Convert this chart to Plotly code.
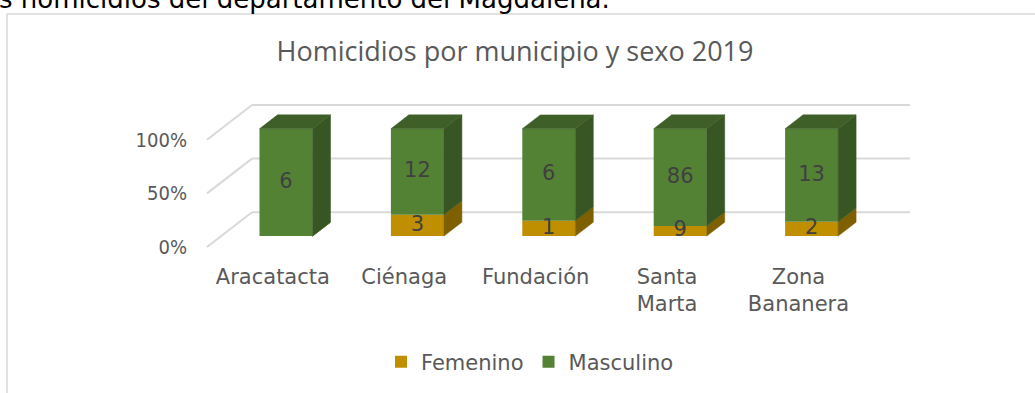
import plotly.graph_objects as go

# --- Data -----------------------------------------------------------------
municipios = ["Aracatacta", "Ciénaga", "Fundación", "Santa Marta", "Zona Bananera"]
etiquetas = ["Aracatacta", "Ciénaga", "Fundación", "Santa<br>Marta", "Zona<br>Bananera"]
femenino = [0, 3, 1, 9, 2]
masculino = [6, 12, 6, 86, 13]
ticks_pct = [0, 50, 100]

titulo = "Homicidios por municipio y sexo 2019"
texto_superior = "s homicidios del departamento del Magdalena."

# --- Page geometry (pixels) ------------------------------------------------
W, H = 1035, 393
M_L, M_R, M_T, M_B = 200, 115, 95, 138
PLOT_W = W - M_L - M_R
PLOT_H = H - M_T - M_B
PX_PER_CAT = 131.4          # horizontal distance between categories
PX_PER_PCT = 1.08           # vertical pixels per percent
FIRST_CAT_PX = 286          # centre of the first column's front face
FLOOR_FRONT_PX = 248        # 0 % on the front edge of the floor

x0 = -(FIRST_CAT_PX - M_L) / PX_PER_CAT
x1 = x0 + PLOT_W / PX_PER_CAT
y0 = (FLOOR_FRONT_PX - (H - M_B)) / PX_PER_PCT
y1 = (FLOOR_FRONT_PX - M_T) / PX_PER_PCT


def xpx(px):
    return x0 + (px - M_L) / PX_PER_CAT


def paper_x(px):
    return (px - M_L) / PLOT_W


def paper_y(py):
    return (H - M_B - py) / PLOT_H


# 3-D box: walls / floor depth and column depth
WALL_DX = 45 / PX_PER_CAT
WALL_DY = 35 / PX_PER_PCT
WALL_LEFT_FRONT = xpx(207)
WALL_RIGHT_BACK = xpx(910)
BAR_BASE = 11 / PX_PER_PCT
BAR_W = 53 / PX_PER_CAT
BAR_DX = 18 / PX_PER_CAT
BAR_DY = 14 / PX_PER_PCT

C_FEM, C_FEM_SIDE = "#BF8F00", "#7F6000"
C_MAS, C_MAS_SIDE, C_MAS_TOP = "#548235", "#375623", "#3E5F28"
GRID = "#D9D9D9"
TXT = "#595959"

idx = list(range(len(municipios)))
totales = [f + m for f, m in zip(femenino, masculino)]
fem_pct = [f / t * 100 for f, t in zip(femenino, totales)]
mas_pct = [m / t * 100 for m, t in zip(masculino, totales)]

fig = go.Figure()

# Gridlines on the side and back walls (kept behind the columns)
for v in ticks_pct:
    grid_line = dict(type="line", xref="x", yref="y", layer="below",
                     line=dict(color=GRID, width=2))
    fig.add_shape(**grid_line, x0=WALL_LEFT_FRONT, y0=v,
                  x1=WALL_LEFT_FRONT + WALL_DX, y1=v + WALL_DY)
    fig.add_shape(**grid_line, x0=WALL_LEFT_FRONT + WALL_DX, y0=v + WALL_DY,
                  x1=WALL_RIGHT_BACK, y1=v + WALL_DY)

# Front faces of the stacked columns
fig.add_trace(go.Bar(name="Femenino", x=idx, y=fem_pct, base=BAR_BASE, width=BAR_W,
                     marker=dict(color=C_FEM, line=dict(width=0)),
                     customdata=femenino, hovertemplate="%{customdata}<extra>Femenino</extra>"))
fig.add_trace(go.Bar(name="Masculino", x=idx, y=mas_pct,
                     base=[BAR_BASE + p for p in fem_pct], width=BAR_W,
                     marker=dict(color=C_MAS, line=dict(width=0)),
                     customdata=masculino, hovertemplate="%{customdata}<extra>Masculino</extra>"))


def side_faces(bottoms, tops):
    xs, ys = [], []
    for i, b0, b1 in zip(idx, bottoms, tops):
        xr = i + BAR_W / 2
        xs += [xr, xr + BAR_DX, xr + BAR_DX, xr, xr, None]
        ys += [b0, b0 + BAR_DY, b1 + BAR_DY, b1, b0, None]
    return xs, ys


fem_bot = [BAR_BASE for _ in idx]
fem_top = [BAR_BASE + p for p in fem_pct]
mas_top = [a + p for a, p in zip(fem_top, mas_pct)]

for (bots, tops, col) in [(fem_bot, fem_top, C_FEM_SIDE), (fem_top, mas_top, C_MAS_SIDE)]:
    sx, sy = side_faces(bots, tops)
    fig.add_trace(go.Scatter(x=sx, y=sy, mode="lines", fill="toself", fillcolor=col,
                             line=dict(color=col, width=0.5), showlegend=False, hoverinfo="skip"))

# Top faces
tx, ty = [], []
for i, t in zip(idx, mas_top):
    xl, xr = i - BAR_W / 2, i + BAR_W / 2
    tx += [xl, xl + BAR_DX, xr + BAR_DX, xr, xl, None]
    ty += [t, t + BAR_DY, t + BAR_DY, t, t, None]
fig.add_trace(go.Scatter(x=tx, y=ty, mode="lines", fill="toself", fillcolor=C_MAS_TOP,
                         line=dict(color=C_MAS_TOP, width=0.5), showlegend=False, hoverinfo="skip"))

# Data labels (counts) centred in each segment
lab_font = dict(family="DejaVu Sans", size=21, color="#404040")
fig.add_trace(go.Scatter(x=idx, y=[BAR_BASE + p / 2 for p in fem_pct], mode="text",
                         text=[str(v) if v else "" for v in femenino], textfont=lab_font,
                         showlegend=False, hoverinfo="skip"))
fig.add_trace(go.Scatter(x=idx, y=[a + p / 2 for a, p in zip(fem_top, mas_pct)], mode="text",
                         text=[str(v) for v in masculino], textfont=lab_font,
                         showlegend=False, hoverinfo="skip"))

# Outer frame (top and left edges)
frame = dict(type="line", xref="paper", yref="paper", line=dict(color=GRID, width=1.5), layer="below")
fig.add_shape(**frame, x0=paper_x(7), x1=paper_x(W + 5), y0=paper_y(13.5), y1=paper_y(13.5))
fig.add_shape(**frame, x0=paper_x(7), x1=paper_x(7), y0=paper_y(13.5), y1=paper_y(H + 5))

fig.add_annotation(text=texto_superior, xref="paper", yref="paper",
                   x=paper_x(612), y=paper_y(-1.5), xanchor="right", yanchor="middle",
                   showarrow=False, font=dict(family="DejaVu Sans", size=26, color="#000000"))

fig.update_layout(
    width=W, height=H,
    margin=dict(l=M_L, r=M_R, t=M_T, b=M_B),
    paper_bgcolor="white", plot_bgcolor="white",
    barmode="overlay",
    title=dict(text=titulo, x=515 / W, xanchor="center", y=1 - 52 / H, yanchor="middle",
               yref="container", font=dict(family="Open Sans", size=27, color=TXT)),
    xaxis=dict(range=[x0, x1], tickvals=[i - 0.1 for i in idx], ticktext=etiquetas,
               showgrid=False, zeroline=False, showline=False, ticks="",
               ticklabelstandoff=8,
               tickfont=dict(family="DejaVu Sans", size=21, color=TXT)),
    yaxis=dict(range=[y0, y1], tickvals=ticks_pct, ticktext=[f"{v}%" for v in ticks_pct],
               showgrid=False, zeroline=False, showline=False, ticks="",
               ticklabelstandoff=12,
               tickfont=dict(family="DejaVu Sans Condensed, DejaVu Sans", size=20, color=TXT)),
    legend=dict(orientation="h", x=paper_x(530), xanchor="center", y=paper_y(362),
                yanchor="middle", font=dict(family="DejaVu Sans", size=21, color=TXT),
                traceorder="normal"),
    showlegend=True,
)

fig.write_html("out.html")
